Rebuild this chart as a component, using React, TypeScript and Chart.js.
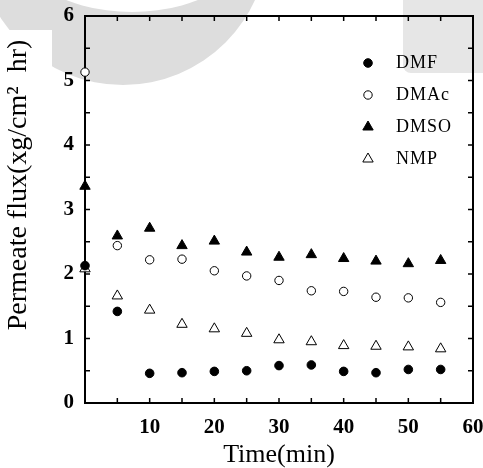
import React, { useEffect, useRef } from 'react';
import { Chart, registerables } from 'chart.js';
import { drawPoint } from 'chart.js/helpers';

Chart.register(...registerables);

const times = [0, 5, 10, 15, 20, 25, 30, 35, 40, 45, 50, 55];
const dmf = [2.13, 1.42, 0.46, 0.47, 0.49, 0.5, 0.58, 0.59, 0.49, 0.47, 0.52, 0.52];
const dmac = [5.13, 2.44, 2.22, 2.23, 2.05, 1.97, 1.9, 1.74, 1.73, 1.64, 1.63, 1.56];
const dmso = [3.36, 2.59, 2.71, 2.44, 2.51, 2.34, 2.26, 2.3, 2.24, 2.2, 2.16, 2.21];
const nmp = [2.08, 1.66, 1.44, 1.22, 1.15, 1.08, 0.98, 0.95, 0.89, 0.88, 0.87, 0.84];
const seriesNames = ['DMF', 'DMAc', 'DMSO', 'NMP'];
const xTickLabels = [10, 20, 30, 40, 50, 60];
const yTickLabels = [0, 1, 2, 3, 4, 5, 6];
const xTitle = 'Time(min)';
const yTitle = 'Permeate flux(xg/cm\u00B2  hr)';

const SERIF = '"Liberation Serif", "Times New Roman", serif';

const toPoints = (vals: number[]) => vals.map((v, i) => ({ x: times[i], y: v }));

const frameTicksPlugin = {
  id: 'frameTicks',
  beforeDatasetsDraw(chart: any) {
    const { ctx, chartArea, scales } = chart;
    const { left, right, top, bottom } = chartArea;
    const xs = scales.x;
    const ys = scales.y;
    ctx.save();
    ctx.strokeStyle = '#000';
    ctx.lineWidth = 1.5;
    const len = 5;
    const line = (x1: number, y1: number, x2: number, y2: number) => {
      ctx.beginPath();
      ctx.moveTo(x1, y1);
      ctx.lineTo(x2, y2);
      ctx.stroke();
    };
    xs.ticks.forEach((t: any) => {
      const px = xs.getPixelForValue(t.value);
      line(px, bottom, px, bottom - len);
      line(px, top, px, top + len);
    });
    ys.ticks.forEach((t: any) => {
      const py = ys.getPixelForValue(t.value);
      line(left, py, left + len, py);
      line(right, py, right - len, py);
    });
    ctx.lineWidth = 2;
    ctx.strokeRect(left, top, right - left, bottom - top);
    ctx.restore();
  },
};

const yTitlePlugin = {
  id: 'yTitle',
  afterDraw(chart: any) {
    const { ctx, chartArea } = chart;
    ctx.save();
    ctx.translate(19, chartArea.top + 169);
    ctx.rotate(-Math.PI / 2);
    ctx.fillStyle = '#000';
    ctx.font = `28px ${SERIF}`;
    ctx.textAlign = 'center';
    ctx.textBaseline = 'middle';
    ctx.fillText(yTitle, 0, 0);
    ctx.restore();
  },
};

const legendPlugin = {
  id: 'insideLegend',
  afterDatasetsDraw(chart: any) {
    const { ctx, chartArea } = chart;
    chart.data.datasets.forEach((ds: any, i: number) => {
      const x = chartArea.right - 105;
      const y = chartArea.top + 47 + i * 32;
      ctx.save();
      ctx.fillStyle = ds.backgroundColor;
      ctx.strokeStyle = ds.borderColor;
      ctx.lineWidth = ds.borderWidth;
      drawPoint(
        ctx,
        { pointStyle: ds.pointStyle, radius: ds.pointRadius, borderWidth: ds.borderWidth, rotation: 0 },
        x,
        y
      );
      ctx.fillStyle = '#000';
      ctx.font = `18px ${SERIF}`;
      try {
        (ctx as any).letterSpacing = '1px';
      } catch (e) {}
      ctx.textBaseline = 'middle';
      ctx.textAlign = 'left';
      ctx.fillText(ds.label, x + 28, y);
      ctx.restore();
    });
  },
};

export default function App() {
  const canvasRef = useRef<HTMLCanvasElement | null>(null);

  useEffect(() => {
    if (!canvasRef.current) return;
    const mk = (label: string, data: number[], style: string, fill: string, r: number) => ({
      label,
      data: toPoints(data),
      pointStyle: style,
      backgroundColor: fill,
      borderColor: '#000',
      borderWidth: 1,
      pointRadius: r,
      pointHoverRadius: r,
      showLine: false,
      clip: false as any,
    });
    const chart = new Chart(canvasRef.current, {
      type: 'scatter',
      data: {
        datasets: [
          mk(seriesNames[0], dmf, 'circle', '#000', 4.3),
          mk(seriesNames[1], dmac, 'circle', '#fff', 4.2),
          mk(seriesNames[2], dmso, 'triangle', '#000', 6),
          mk(seriesNames[3], nmp, 'triangle', '#fff', 6),
        ] as any,
      },
      plugins: [frameTicksPlugin, legendPlugin, yTitlePlugin],
      options: {
        animation: false,
        responsive: true,
        maintainAspectRatio: false,
        layout: { padding: { top: 16, right: 10, left: 0, bottom: 0 } },
        plugins: {
          legend: { display: false },
          tooltip: { enabled: false },
        },
        scales: {
          x: {
            type: 'linear',
            min: 0,
            max: 60,
            grid: { display: false, drawTicks: false },
            border: { display: false },
            afterFit: (s: any) => {
              s.height = 65;
              s.paddingLeft = 0;
              s.paddingRight = 0;
            },
            ticks: {
              stepSize: 5,
              autoSkip: false,
              maxRotation: 0,
              padding: 12,
              color: '#000',
              font: { family: SERIF, size: 21, weight: 'bold' },
              callback: (v: any) => (xTickLabels.includes(Number(v)) ? String(v) : ''),
            },
            title: {
              display: true,
              text: xTitle,
              color: '#000',
              font: { family: SERIF, size: 26, lineHeight: 1 },
              padding: { top: 0, bottom: 0 },
            },
          },
          y: {
            type: 'linear',
            min: 0,
            max: 6,
            grid: { display: false, drawTicks: false },
            border: { display: false },
            afterFit: (s: any) => {
              s.width = 85;
              s.paddingTop = 0;
              s.paddingBottom = 0;
            },
            ticks: {
              stepSize: 0.5,
              autoSkip: false,
              padding: 11,
              color: '#000',
              font: { family: SERIF, size: 21, weight: 'bold' },
              callback: (v: any) => (yTickLabels.includes(Number(v)) ? String(v) : ''),
            },
            title: { display: false },
          },
        },
      } as any,
    });
    return () => chart.destroy();
  }, []);

  return (
    <div
      style={{
        position: 'fixed',
        left: 0,
        top: 0,
        width: 483,
        height: 468,
        overflow: 'hidden',
        background: '#fff',
      }}
    >
      <div
        style={{
          position: 'absolute',
          left: -22,
          top: -205,
          width: 290,
          height: 290,
          borderRadius: '50%',
          background: '#dddddd',
        }}
      />
      <div
        style={{
          position: 'absolute',
          left: 2,
          top: -162,
          width: 260,
          height: 174,
          borderRadius: '50%',
          background: '#fff',
        }}
      />
      <div style={{ position: 'absolute', left: 0, top: 30, width: 52, height: 120, background: '#fff' }} />
      <div
        style={{
          position: 'absolute',
          left: 403,
          top: 0,
          width: 90,
          height: 73,
          background: '#e6e6e6',
          borderBottomLeftRadius: 8,
        }}
      />
      <div style={{ position: 'absolute', left: 0, top: 0, width: 483, height: 468 }}>
        <canvas ref={canvasRef} />
      </div>
    </div>
  );
}
